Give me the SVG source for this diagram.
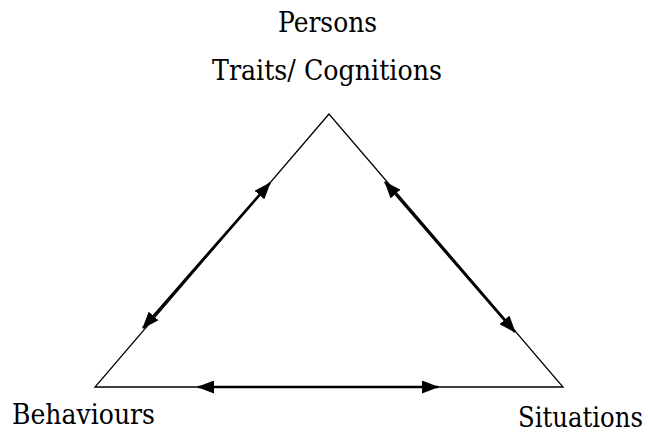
<svg xmlns="http://www.w3.org/2000/svg" width="648" height="434" viewBox="0 0 648 434">
<style>
.edge{fill:none;stroke:#000;stroke-width:1.3}
.arr{fill:none;stroke:#000;stroke-width:2.6;marker-start:url(#ah);marker-end:url(#ah)}
.lbl{font-family:"DejaVu Serif",serif;font-size:27px;fill:#000}
</style>
<defs>
<marker id="ah" viewBox="0 0 17 13" refX="16" refY="6.5" markerWidth="17" markerHeight="13" orient="auto-start-reverse" markerUnits="userSpaceOnUse">
<path d="M0,0L17,6.5L0,13z" fill="#000"/>
</marker>
</defs>
<rect width="648" height="434" fill="#fff"/>
<g id="triangle">
<polygon class="edge" points="329,114 95,387 563,387"/>
</g>
<g id="persons">
<text class="lbl" x="278" y="32" textLength="99" lengthAdjust="spacingAndGlyphs">Persons</text>
<text class="lbl" x="212" y="80" textLength="230" lengthAdjust="spacingAndGlyphs">Traits/ Cognitions</text>
</g>
<g id="behaviours"><text class="lbl" x="12" y="424" textLength="143" lengthAdjust="spacingAndGlyphs">Behaviours</text></g>
<g id="situations"><text class="lbl" x="518" y="427" textLength="125" lengthAdjust="spacingAndGlyphs">Situations</text></g>
<g id="connectors">
<line class="arr" x1="143" y1="328" x2="270" y2="183"/>
<line class="arr" x1="385" y1="182" x2="515" y2="332"/>
<line class="arr" x1="198" y1="387" x2="438" y2="387"/>
</g>
</svg>
